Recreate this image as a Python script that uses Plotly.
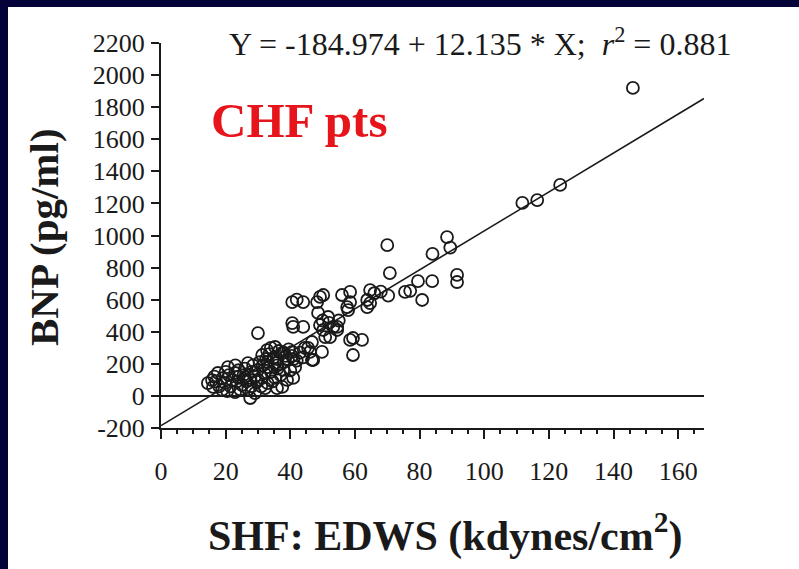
import plotly.graph_objects as go

# Regression fit reported for the CHF patients
INTERCEPT = -184.974
SLOPE = 12.135
R_SQUARED = 0.881

# End-diastolic wall stress (kdynes/cm^2) and BNP (pg/ml) per patient
edws = [
    146.0, 111.8, 116.4, 123.5,
    70.0, 70.8, 70.3,
    88.5, 89.5, 84.0, 91.6, 91.6,
    79.5, 83.9, 75.5, 77.1, 80.8,
    64.7, 63.8, 63.8, 64.7, 66.0, 68.0,
    58.5, 56.0, 58.5, 57.6, 57.9,
    49.2, 48.3, 50.2, 44.0, 40.6, 42.0,
    48.6, 51.7, 50.0, 52.0, 55.0,
    40.6, 40.9, 44.0, 49.2, 54.5, 53.3,
    52.3, 59.4, 54.5, 50.2, 50.8,
    58.5, 62.2, 59.4,
    46.1, 49.8, 47.1, 46.7, 44.5,
    30.0,
    17.6, 15.8, 20.7, 22.9, 26.9, 31.3, 35.3, 32.8, 37.5, 40.6,
    33.1, 37.8, 35.3, 29.7, 25.1, 19.8, 22.9, 29.1, 26.0, 30.0,
    35.3, 39.3, 41.5, 18.9, 16.1, 31.3, 22.0, 37.5, 40.9, 35.9,
    32.2, 27.6, 46.7,
    14.5, 16.5, 18.0, 19.0, 21.0, 21.5, 23.5, 24.0, 24.5, 25.5,
    26.5, 27.0, 28.0, 28.5, 29.0, 30.5, 31.0, 32.0, 32.5, 33.5,
    34.0, 34.5, 35.0, 36.0, 36.5, 37.0, 38.0, 38.5, 39.0, 40.0,
    40.5, 42.0, 43.0, 44.0, 45.5, 28.0, 30.0, 33.0, 36.0, 38.0,
    39.5, 41.0, 26.0, 23.0, 20.0, 34.0, 31.5, 24.0, 20.5, 17.0,
    27.5, 33.0, 36.0,
]
bnp = [
    1920, 1203, 1221, 1315,
    940, 766, 625,
    990, 925, 885, 754, 710,
    715, 715, 648, 655, 598,
    660, 598, 554, 579, 640, 650,
    648, 629, 585, 554, 535,
    617, 585, 629, 585, 585, 600,
    517, 492, 470, 455, 470,
    454, 430, 430, 442, 430, 430,
    367, 361, 411, 411, 367,
    349, 349, 255,
    274, 274, 224, 336, 300,
    392,
    143, 99, 180, 143, 205, 255, 305, 286, 268, 274,
    180, 162, 112, 87, 68, 81, 24, 18, 118, 162,
    205, 224, 180, 37, 56, 112, 99, 56, 112, 49,
    49, -13, 224,
    80, 120, 60, 110, 130, 60, 90, 160, 40, 130,
    90, 40, 150, 190, 120, 210, 60, 140, 230, 260,
    150, 90, 240, 190, 280, 130, 210, 250, 100, 160,
    250, 220, 270, 240, 300, 60, 100, 210, 230, 270,
    290, 230, 170, 190, 150, 300, 190, 120, 30, 90,
    100, 80, 170,
]

x_ticks = [0, 20, 40, 60, 80, 100, 120, 140, 160]
y_ticks = [-200, 0, 200, 400, 600, 800, 1000, 1200, 1400, 1600, 1800, 2000, 2200]
x_range = [0, 168]
y_range = [-200, 2200]

SERIF = "Liberation Serif, Times New Roman, serif"
INK = "#1a1a1a"
NAVY = "#03033a"

W, H = 799, 569
L, R, T, B = 161, 95, 43, 141
pw, ph = W - L - R, H - T - B


def px_x(px):
    return (px - L) / pw


def px_y(py):
    return (H - B - py) / ph


fig = go.Figure()

fit_x = [x_range[0], x_range[1]]
fit_y = [INTERCEPT + SLOPE * v for v in fit_x]
fig.add_trace(go.Scatter(
    x=fit_x, y=fit_y, mode="lines",
    line=dict(color=INK, width=1.6),
    hoverinfo="skip", showlegend=False,
))

fig.add_trace(go.Scatter(
    x=edws, y=bnp, mode="markers",
    marker=dict(symbol="circle-open", size=12, color=INK,
                line=dict(color=INK, width=1.8)),
    showlegend=False,
))

# navy frame along the top and left edges of the slide
fig.add_shape(
    type="rect", xref="paper", yref="paper", layer="below",
    x0=px_x(-20), x1=px_x(W + 20), y0=px_y(7), y1=px_y(-20),
    fillcolor=NAVY, line=dict(width=0),
)
fig.add_shape(
    type="rect", xref="paper", yref="paper", layer="below",
    x0=px_x(-20), x1=px_x(8), y0=px_y(H + 20), y1=px_y(-20),
    fillcolor=NAVY, line=dict(width=0),
)

fig.add_annotation(
    xref="paper", yref="paper", x=px_x(480), y=px_y(42),
    xanchor="center", yanchor="middle", showarrow=False,
    text=f"Y = {INTERCEPT:.3f} + {SLOPE:.3f} * X;&nbsp; <i>r</i><sup>2</sup> = {R_SQUARED:.3f}",
    font=dict(family=SERIF, size=32, color=INK),
)
fig.add_annotation(
    xref="paper", yref="paper", x=px_x(299), y=px_y(121),
    xanchor="center", yanchor="middle", showarrow=False,
    text="<b>CHF pts</b>",
    font=dict(family=SERIF, size=49, color="#e8141b"),
)
fig.add_annotation(
    xref="paper", yref="paper", x=px_x(44), y=px_y(237),
    xanchor="center", yanchor="middle", showarrow=False, textangle=-90,
    text="<b>BNP (pg/ml)</b>",
    font=dict(family=SERIF, size=41, color=INK),
)
fig.add_annotation(
    xref="paper", yref="paper", x=px_x(445), y=px_y(533),
    xanchor="center", yanchor="middle", showarrow=False,
    text="<b>SHF: EDWS (kdynes/cm<sup>2</sup>)</b>",
    font=dict(family=SERIF, size=42, color=INK),
)

fig.update_xaxes(
    range=x_range, tickvals=x_ticks, ticktext=[str(v) for v in x_ticks],
    showline=True, linecolor=INK, linewidth=2,
    ticks="outside", ticklen=9, tickwidth=2, tickcolor=INK,
    minor=dict(dtick=5, tick0=0, ticks="outside", ticklen=4, tickwidth=2, tickcolor=INK),
    showgrid=False, zeroline=False, ticklabelstandoff=10,
    tickfont=dict(family=SERIF, size=26, color=INK),
)
fig.update_yaxes(
    range=y_range, tickvals=y_ticks, ticktext=[str(v) for v in y_ticks],
    showline=True, linecolor=INK, linewidth=2,
    ticks="outside", ticklen=8, tickwidth=2, tickcolor=INK,
    showgrid=False, zeroline=True, zerolinecolor=INK, zerolinewidth=2,
    ticklabelstandoff=1,
    tickfont=dict(family=SERIF, size=26, color=INK),
)

fig.update_layout(
    width=W, height=H,
    margin=dict(l=L, r=R, t=T, b=B, pad=0),
    paper_bgcolor="white", plot_bgcolor="white",
    showlegend=False,
)

fig.write_html("out.html", include_plotlyjs=True, full_html=True,
               config={"displayModeBar": False})
